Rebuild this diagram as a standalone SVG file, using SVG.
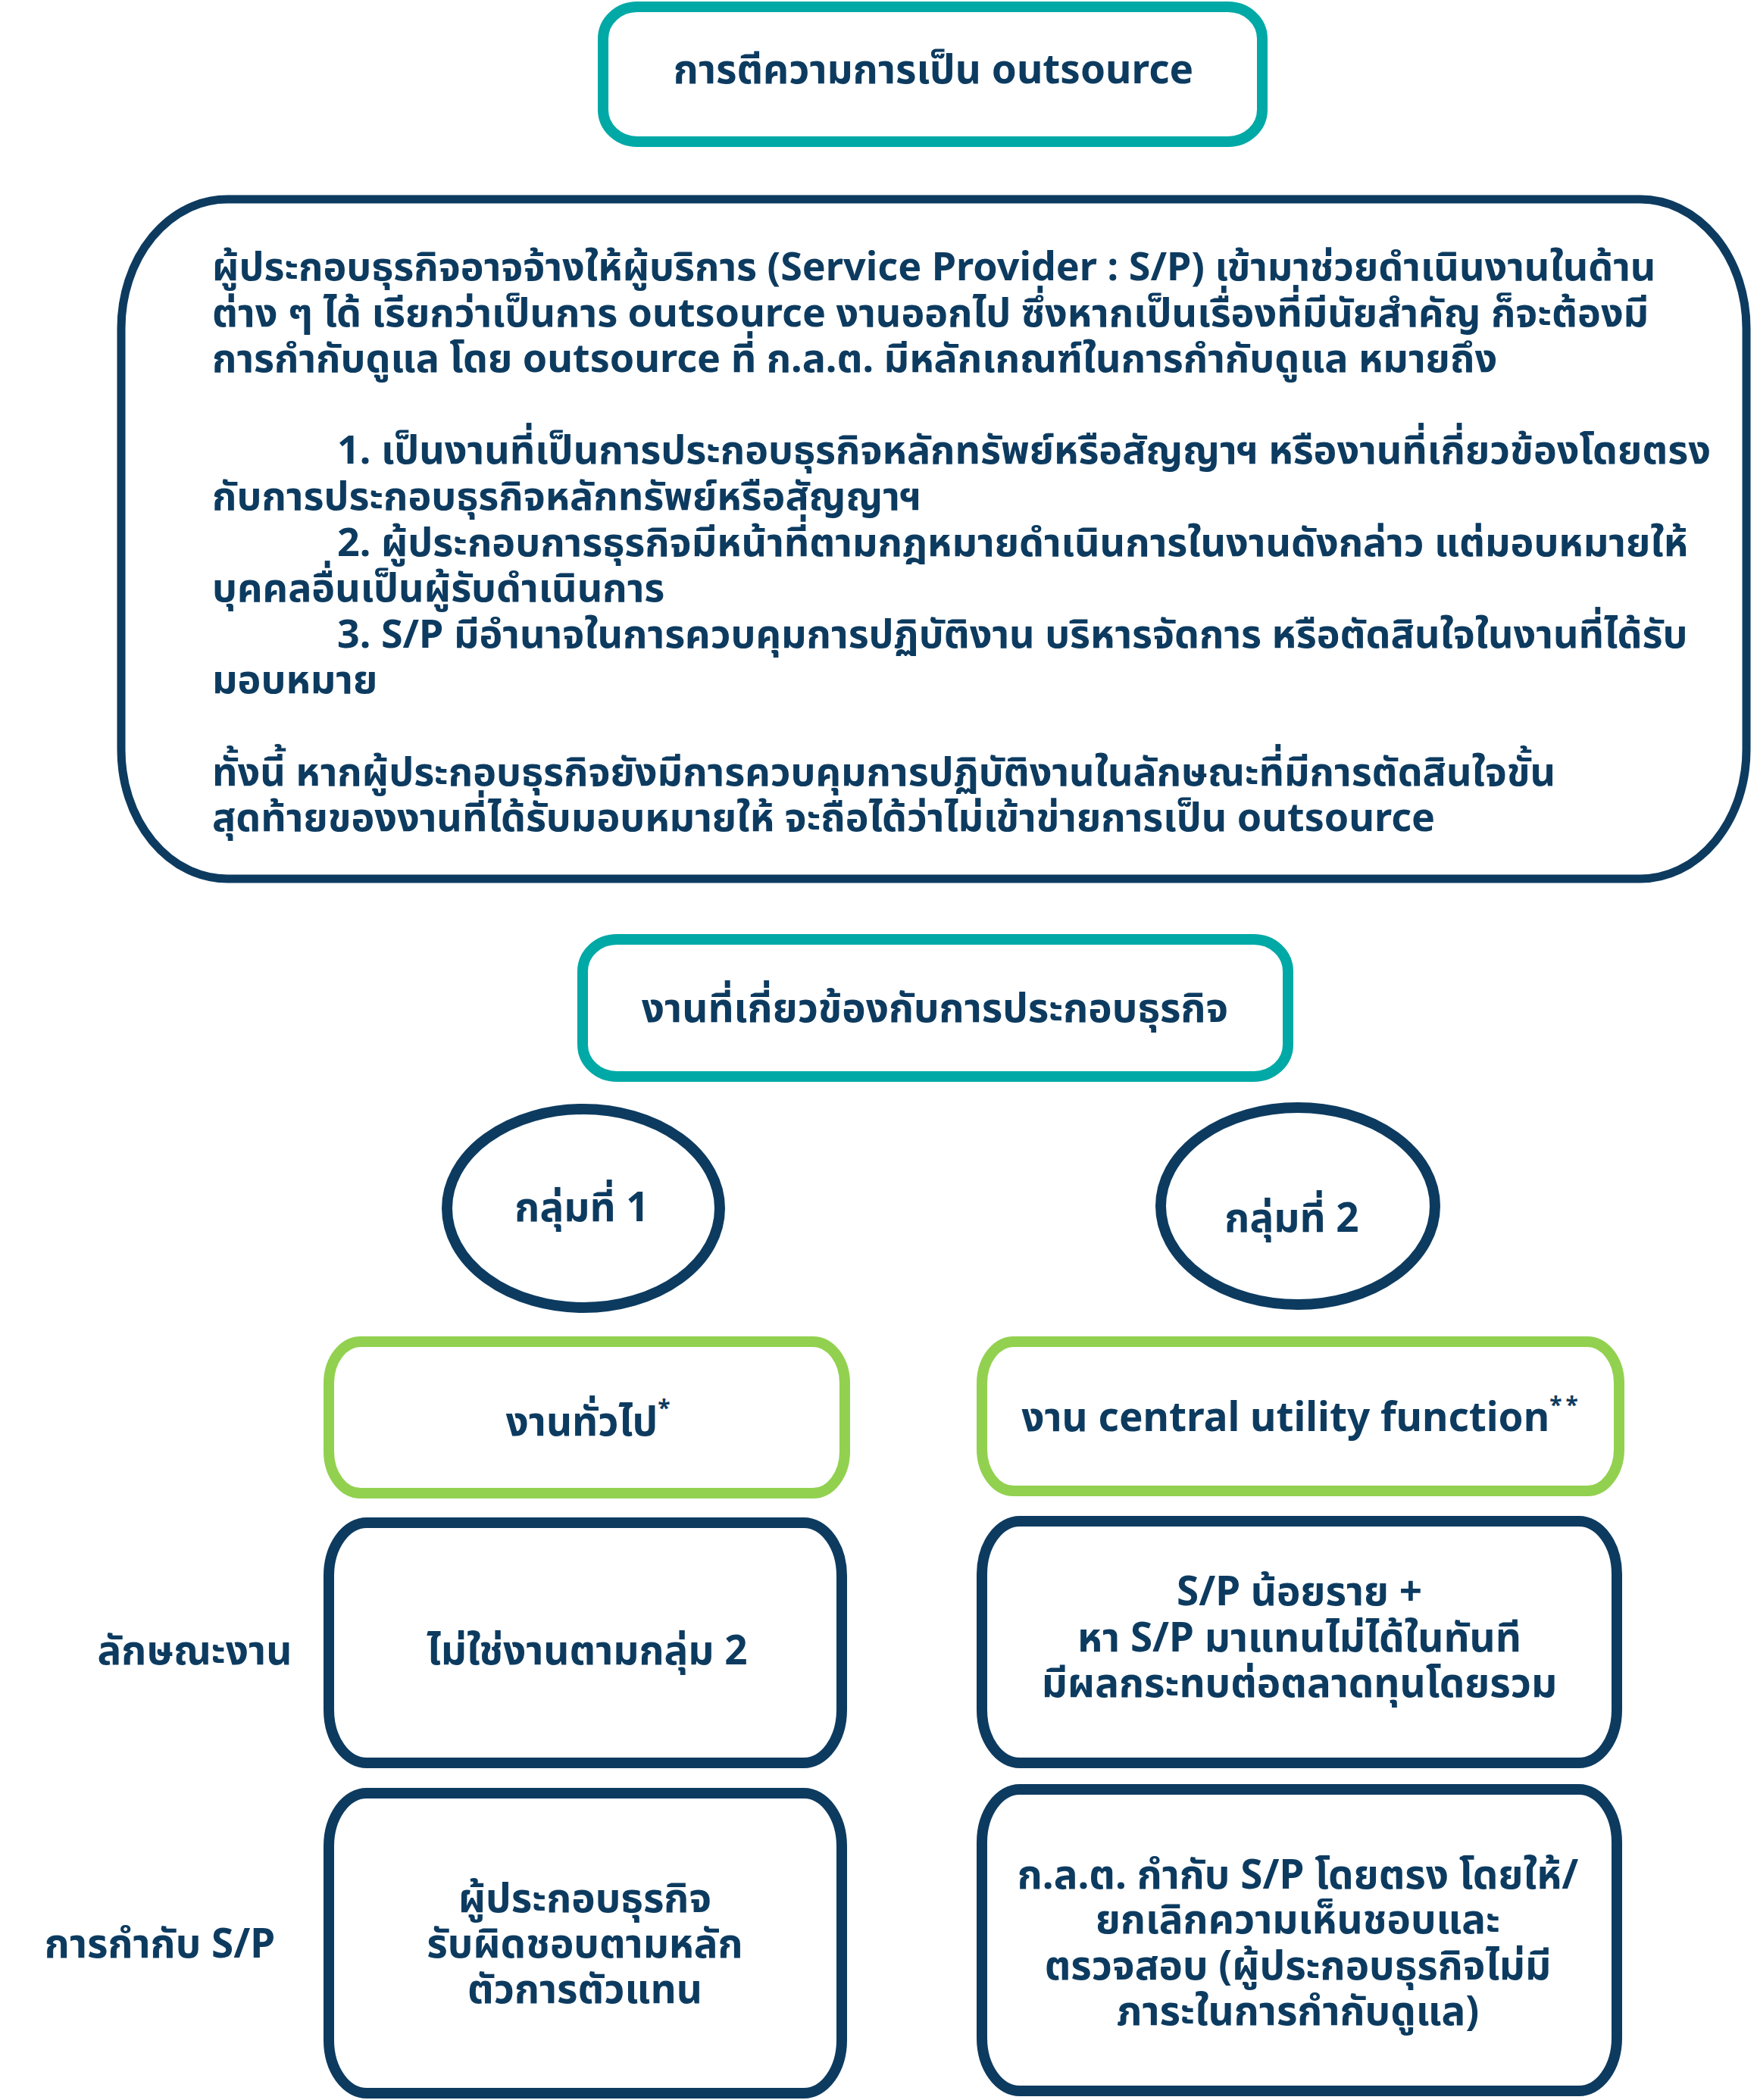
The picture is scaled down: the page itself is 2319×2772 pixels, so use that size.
<svg xmlns="http://www.w3.org/2000/svg" width="2319" height="2772" viewBox="0 0 2319 2772">
<style>
.t{font-family:"Noto Sans","Noto Sans Thai","Noto Sans Thai UI","Leelawadee UI","Tahoma",sans-serif;font-weight:bold;fill:#0d3b60;font-size:53px}
.b{font-size:52px}
.c{text-anchor:middle}
.teal{fill:#ffffff;stroke:#00a9a6;stroke-width:14}
.navy{fill:#ffffff;stroke:#0d3b60;stroke-width:14}
.green{fill:#ffffff;stroke:#92d14f;stroke-width:14}
.sup{font-size:30px}
</style>
<rect width="2319" height="2772" fill="#ffffff"/>
<g id="title">
<rect class="teal" x="796" y="9" width="870" height="178" rx="45" ry="42"/>
<text class="t c" x="1232" y="110" font-size="53">การตีความการเป็น outsource</text>
</g>
<g id="definition">
<rect x="160" y="263" width="2145" height="897" rx="140" ry="170" fill="#ffffff" stroke="#0d3b60" stroke-width="11"/>
<text class="t b" x="280" y="370">ผู้ประกอบธุรกิจอาจจ้างให้ผู้บริการ (Service Provider : S/P) เข้ามาช่วยดำเนินงานในด้าน</text>
<text class="t b" x="280" y="430.6">ต่าง ๆ ได้ เรียกว่าเป็นการ outsource งานออกไป ซึ่งหากเป็นเรื่องที่มีนัยสำคัญ ก็จะต้องมี</text>
<text class="t b" x="280" y="491.2">การกำกับดูแล โดย outsource ที่ ก.ล.ต. มีหลักเกณฑ์ในการกำกับดูแล หมายถึง</text>
<text class="t b" x="445" y="612.4">1. เป็นงานที่เป็นการประกอบธุรกิจหลักทรัพย์หรือสัญญาฯ หรืองานที่เกี่ยวข้องโดยตรง</text>
<text class="t b" x="280" y="673">กับการประกอบธุรกิจหลักทรัพย์หรือสัญญาฯ</text>
<text class="t b" x="445" y="733.6">2. ผู้ประกอบการธุรกิจมีหน้าที่ตามกฎหมายดำเนินการในงานดังกล่าว แต่มอบหมายให้</text>
<text class="t b" x="280" y="794.2">บุคคลอื่นเป็นผู้รับดำเนินการ</text>
<text class="t b" x="445" y="854.8">3. S/P มีอำนาจในการควบคุมการปฏิบัติงาน บริหารจัดการ หรือตัดสินใจในงานที่ได้รับ</text>
<text class="t b" x="280" y="915.4">มอบหมาย</text>
<text class="t b" x="280" y="1036.6">ทั้งนี้ หากผู้ประกอบธุรกิจยังมีการควบคุมการปฏิบัติงานในลักษณะที่มีการตัดสินใจขั้น</text>
<text class="t b" x="280" y="1097.2">สุดท้ายของงานที่ได้รับมอบหมายให้ จะถือได้ว่าไม่เข้าข่ายการเป็น outsource</text>
</g>
<g id="related-work">
<rect class="teal" x="769" y="1240" width="931" height="181" rx="45" ry="42"/>
<text class="t c" x="1234" y="1349" font-size="53">งานที่เกี่ยวข้องกับการประกอบธุรกิจ</text>
</g>
<g id="group1">
<ellipse class="navy" cx="770" cy="1595" rx="180" ry="131"/>
<text class="t c" x="768" y="1612">กลุ่มที่ 1</text>
</g>
<g id="group2">
<ellipse class="navy" cx="1713" cy="1592" rx="181" ry="130"/>
<text class="t c" x="1705" y="1626">กลุ่มที่ 2</text>
</g>
<g id="general-work">
<rect class="green" x="434" y="1771" width="681" height="200" rx="42" ry="55"/>
<text class="t c" x="776" y="1895" font-size="52">งานทั่วไป<tspan class="sup" dy="-26">*</tspan></text>
</g>
<g id="cuf-work">
<rect class="green" x="1296" y="1771" width="841" height="197" rx="42" ry="55"/>
<text class="t c" x="1718" y="1889" font-size="46">งาน central utility function<tspan class="sup" dy="-24" letter-spacing="5">**</tspan></text>
</g>
<g id="label-nature">
<text class="t c" x="257" y="2197">ลักษณะงาน</text>
</g>
<g id="nature1">
<rect class="navy" x="434" y="2010" width="677" height="317" rx="50" ry="70"/>
<text class="t c" x="775" y="2197" font-size="54">ไม่ใช่งานตามกลุ่ม 2</text>
</g>
<g id="nature2">
<rect class="navy" x="1296" y="2008" width="838" height="319" rx="50" ry="70"/>
<text class="t c" x="1715" y="2119">S/P น้อยราย +</text>
<text class="t c" x="1715" y="2180">หา S/P มาแทนไม่ได้ในทันที</text>
<text class="t c" x="1715" y="2240">มีผลกระทบต่อตลาดทุนโดยรวม</text>
</g>
<g id="label-supervision">
<text class="t c" x="211" y="2584" font-size="54">การกำกับ S/P</text>
</g>
<g id="supervision1">
<rect class="navy" x="434" y="2367" width="677" height="396" rx="50" ry="70"/>
<text class="t c" x="772" y="2524">ผู้ประกอบธุรกิจ</text>
<text class="t c" x="772" y="2584">รับผิดชอบตามหลัก</text>
<text class="t c" x="772" y="2644">ตัวการตัวแทน</text>
</g>
<g id="supervision2">
<rect class="navy" x="1296" y="2362" width="838" height="398" rx="50" ry="70"/>
<text class="t c" x="1713" y="2493">ก.ล.ต. กำกับ S/P โดยตรง โดยให้/</text>
<text class="t c" x="1713" y="2552">ยกเลิกความเห็นชอบและ</text>
<text class="t c" x="1713" y="2613">ตรวจสอบ (ผู้ประกอบธุรกิจไม่มี</text>
<text class="t c" x="1713" y="2673">ภาระในการกำกับดูแล)</text>
</g>
<g id="connectors"/>
</svg>
